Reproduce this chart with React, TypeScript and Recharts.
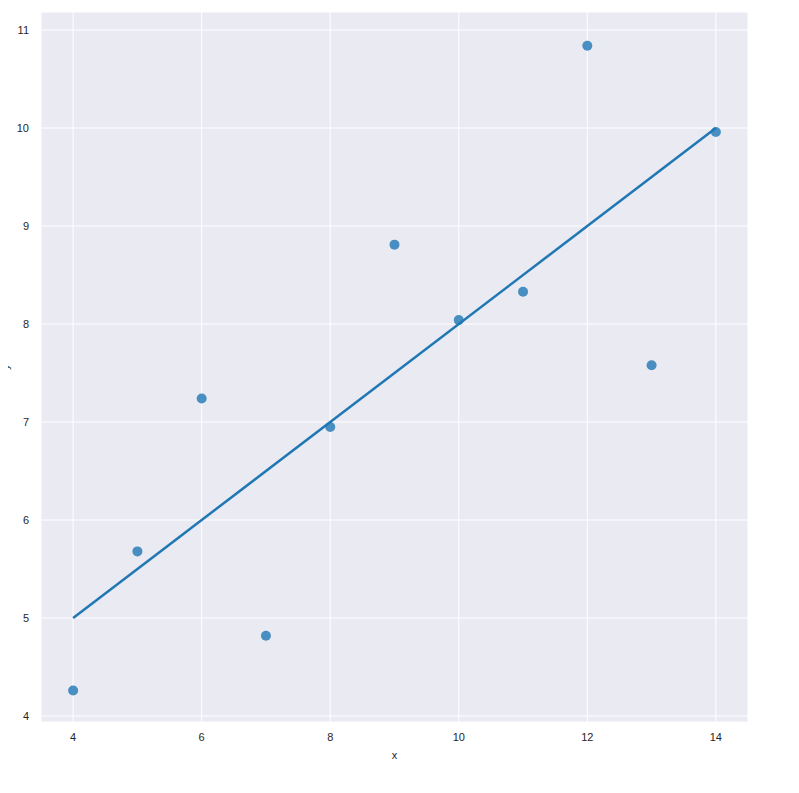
import React from 'react';
import {
  CartesianGrid,
  ComposedChart,
  Scatter,
  XAxis,
  YAxis,
} from 'recharts';

// Anscombe set I
const xValues = [10, 8, 13, 9, 11, 14, 6, 4, 12, 7, 5];
const yValues = [8.04, 6.95, 7.58, 8.81, 8.33, 9.96, 7.24, 4.26, 10.84, 4.82, 5.68];

// fitted line ends
const fitX = [4, 14];
const fitY = [5.0, 10.0];

const xTicks = [4, 6, 8, 10, 12, 14];
const yTicks = [4, 5, 6, 7, 8, 9, 10, 11];

const points = xValues.map((x, i) => ({ x, y: yValues[i] }));
const fitLine = fitX.map((x, i) => ({ x, y: fitY[i] }));

const tickStyle = { fontFamily: 'Liberation Sans, Arial, sans-serif', fontSize: 11, fill: '#262626' };

export default function App() {
  return (
    <div style={{ marginLeft: -8 }}>
      <ComposedChart
        width={799}
        height={770}
        margin={{ top: 4, right: 51, left: 8, bottom: 16 }}
      >
        <CartesianGrid fill="#EAEAF2" stroke="#ffffff" strokeWidth={1} />
        <XAxis
          type="number"
          dataKey="x"
          domain={[3.5, 14.5]}
          ticks={xTicks}
          axisLine={false}
          tickLine={false}
          tickSize={0}
          tickMargin={11}
          height={40}
          tick={tickStyle}
          label={{
            value: 'x',
            position: 'insideBottom',
            offset: 3,
            style: { ...tickStyle },
          }}
        />
        <YAxis
          type="number"
          dataKey="y"
          domain={[3.939, 11.184]}
          ticks={yTicks}
          axisLine={false}
          tickLine={false}
          tickSize={0}
          tickMargin={12}
          width={33}
          tick={tickStyle}
          label={{
            value: 'y',
            angle: -90,
            position: 'insideLeft',
            offset: -3,
            style: { ...tickStyle, textAnchor: 'middle' },
          }}
        />
        <Scatter
          data={points}
          fill="#1f77b4"
          fillOpacity={0.8}
          shape={(props: any) => (
            <circle cx={props.cx} cy={props.cy} r={5} fill="#1f77b4" fillOpacity={0.8} />
          )}
          isAnimationActive={false}
        />
        <Scatter
          data={fitLine}
          line={{ stroke: '#1f77b4', strokeWidth: 2.5 }}
          shape={() => <g />}
          isAnimationActive={false}
        />
      </ComposedChart>
    </div>
  );
}
